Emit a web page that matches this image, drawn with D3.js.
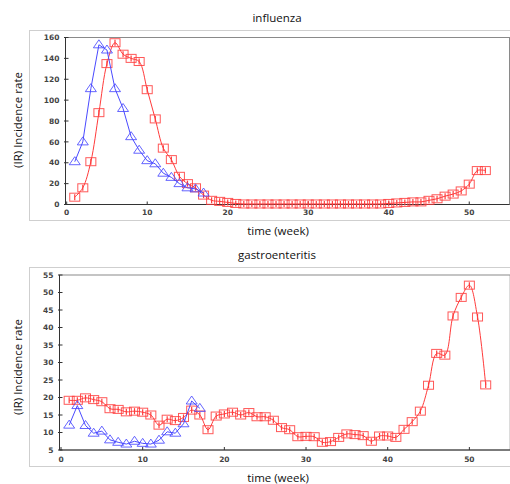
<!DOCTYPE html>
<html>
<head>
<meta charset="utf-8">
<script src="https://cdn.jsdelivr.net/npm/d3@7"></script>
<style>
  body { margin: 0; background: #fff; }
  svg { display: block; }
  .tick-label { font-family: "DejaVu Sans", sans-serif; font-weight: bold; font-size: 7.5px; fill: #444; }
  .title, .axis-title { font-family: "Open Sans", sans-serif; font-size: 11.5px; fill: #111; }
</style>
</head>
<body>
<svg id="chart" width="510" height="484"></svg>
<script>
// weeks
const weeksAll = d3.range(1, 53)
const weeksShort = d3.range(1, 18)

// influenza
const fluBlue = [41, 60, 111, 153, 148, 111, 92, 65, 52, 42, 39, 30, 26, 20, 16, 15, 11]
const fluRed = [7, 16, 41, 88, 135, 155, 144, 140, 137, 110, 82, 54, 43, 27, 20, 16, 9, 4, 3, 2, 1,
    0.5, 0.5, 0.5, 0.5, 0.5, 0.5, 0.5, 0.5, 0.5, 0.5, 0.5, 0.5, 0.5, 0.5, 0.5, 0.5, 0.5, 0.5,
    1, 1.5, 2, 2.5, 2.5, 4, 5.5, 8, 10, 13, 19.5, 32.5, 32.5]
const fluTicksY = [0, 20, 40, 60, 80, 100, 120, 140, 160]

// gastroenteritis
const gasBlue = [12.1, 17.7, 12, 9.8, 10.4, 7.9, 7.2, 6.7, 7.5, 6.9, 6.7, 7.8, 10.2, 9.8, 12.5, 19, 16.9]
const gasRed = [19.2, 19.2, 19.9, 19.4, 18.8, 16.8, 16.6, 15.9, 16.1, 15.8, 15.0, 12.1, 13.8, 13.4, 14.3,
    16.4, 15.0, 10.8, 14.7, 15.3, 15.8, 15.0, 15.7, 14.5, 14.5, 13.5, 11.4, 10.8, 8.8, 8.9, 8.8, 7.2,
    7.4, 8.6, 9.6, 9.4, 9.1, 7.5, 9.0, 9.0, 8.6, 10.9, 13.1, 16.1, 23.5, 32.6, 32.1, 43.3, 48.6, 52.1,
    43.0, 23.6]
const gasTicksY = [5, 10, 15, 20, 25, 30, 35, 40, 45, 50, 55]

const ticksX = [0, 10, 20, 30, 40, 50]

const red = '#ff3b3b'
const blue = '#4a4aff'

const svg = d3.select('#chart')

const panels = [
    {
        title: 'influenza', titleY: 22,
        box: {x0: 29.5, y0: 30.5, y1: 220.5},
        xRange: [66.7, 509.5], yDomain: [0, 160], yRange: [204.5, 37.5], frameLeft: 65.5,
        yTicks: fluTicksY, blue: fluBlue, red: fluRed,
        xLabelY: 235, yLabelY: 120, xTickY: 215
    },
    {
        title: 'gastroenteritis', titleY: 259,
        box: {x0: 29.5, y0: 267.5, y1: 466.5},
        xRange: [61, 510.2], yDomain: [5, 55], yRange: [450, 275], frameLeft: 59.5,
        yTicks: gasTicksY, blue: gasBlue, red: gasRed,
        xLabelY: 482, yLabelY: 367, xTickY: 462
    }
]

panels.forEach(p => {
    const x = d3.scaleLinear().domain([0, 55]).range(p.xRange)
    const y = d3.scaleLinear().domain(p.yDomain).range(p.yRange)

    // outer light box
    svg.append('rect')
        .attr('x', p.box.x0).attr('y', p.box.y0)
        .attr('width', 520 - p.box.x0).attr('height', p.box.y1 - p.box.y0)
        .attr('fill', 'none').attr('stroke', '#cfcfcf')

    // plot frame
    svg.append('rect')
        .attr('x', p.frameLeft).attr('y', p.yRange[1])
        .attr('width', p.xRange[1] - p.frameLeft).attr('height', p.yRange[0] - p.yRange[1])
        .attr('fill', 'none').attr('stroke', '#8a8a8a')
    svg.append('line')
        .attr('x1', p.frameLeft).attr('x2', p.frameLeft)
        .attr('y1', p.yRange[1]).attr('y2', p.yRange[0])
        .attr('stroke', '#333')
    svg.append('line')
        .attr('x1', p.frameLeft).attr('x2', p.xRange[1])
        .attr('y1', p.yRange[0]).attr('y2', p.yRange[0])
        .attr('stroke', '#333')

    // y ticks
    svg.selectAll(null).data(p.yTicks).enter().append('line')
        .attr('x1', p.frameLeft - 1.5).attr('x2', p.frameLeft + 3)
        .attr('y1', d => y(d)).attr('y2', d => y(d))
        .attr('stroke', '#333')
    svg.selectAll(null).data(p.yTicks).enter().append('text')
        .attr('class', 'tick-label')
        .attr('x', p.frameLeft - 6).attr('y', d => y(d) + 2.7)
        .attr('text-anchor', 'end')
        .text(d => d)

    // x ticks
    svg.selectAll(null).data(ticksX).enter().append('line')
        .attr('x1', d => x(d)).attr('x2', d => x(d))
        .attr('y1', p.yRange[0]).attr('y2', p.yRange[0] - 3)
        .attr('stroke', '#333')
    svg.selectAll(null).data(ticksX).enter().append('text')
        .attr('class', 'tick-label')
        .attr('x', d => x(d)).attr('y', p.xTickY)
        .attr('text-anchor', 'middle')
        .text(d => d)

    // red series
    const redPts = weeksAll.map((w, i) => [x(w), y(p.red[i])])
    svg.append('path')
        .attr('d', d3.line().curve(d3.curveCatmullRom)(redPts))
        .attr('fill', 'none').attr('stroke', red).attr('stroke-width', 1)
    svg.selectAll(null).data(redPts).enter().append('line')
        .attr('x1', d => d[0]).attr('x2', d => d[0])
        .attr('y1', d => d[1] - 3).attr('y2', d => d[1] + 3)
        .attr('stroke', red).attr('stroke-width', 1.2)
    svg.selectAll(null).data(redPts).enter().append('rect')
        .attr('x', d => d[0] - 5).attr('y', d => d[1] - 4)
        .attr('width', 10).attr('height', 8)
        .attr('fill', 'none').attr('stroke', red).attr('stroke-opacity', 0.85)

    // blue series
    const bluePts = weeksShort.map((w, i) => [x(w), y(p.blue[i])])
    svg.append('path')
        .attr('d', d3.line()(bluePts))
        .attr('fill', 'none').attr('stroke', blue).attr('stroke-width', 1)
    svg.selectAll(null).data(bluePts).enter().append('path')
        .attr('d', d => `M${d[0]},${d[1] - 5}L${d[0] + 5.5},${d[1] + 3}L${d[0] - 5.5},${d[1] + 3}Z`)
        .attr('fill', 'none').attr('stroke', blue).attr('stroke-opacity', 0.85)

    // titles
    svg.append('text').attr('class', 'title')
        .attr('x', 277).attr('y', p.titleY)
        .attr('text-anchor', 'middle').text(p.title)
    svg.append('text').attr('class', 'axis-title')
        .attr('x', 278).attr('y', p.xLabelY)
        .attr('text-anchor', 'middle').text('time (week)')
    svg.append('text').attr('class', 'axis-title')
        .attr('transform', `translate(22, ${p.yLabelY}) rotate(-90)`)
        .attr('text-anchor', 'middle').text('(IR) Incidence rate')
})
</script>
</body>
</html>
